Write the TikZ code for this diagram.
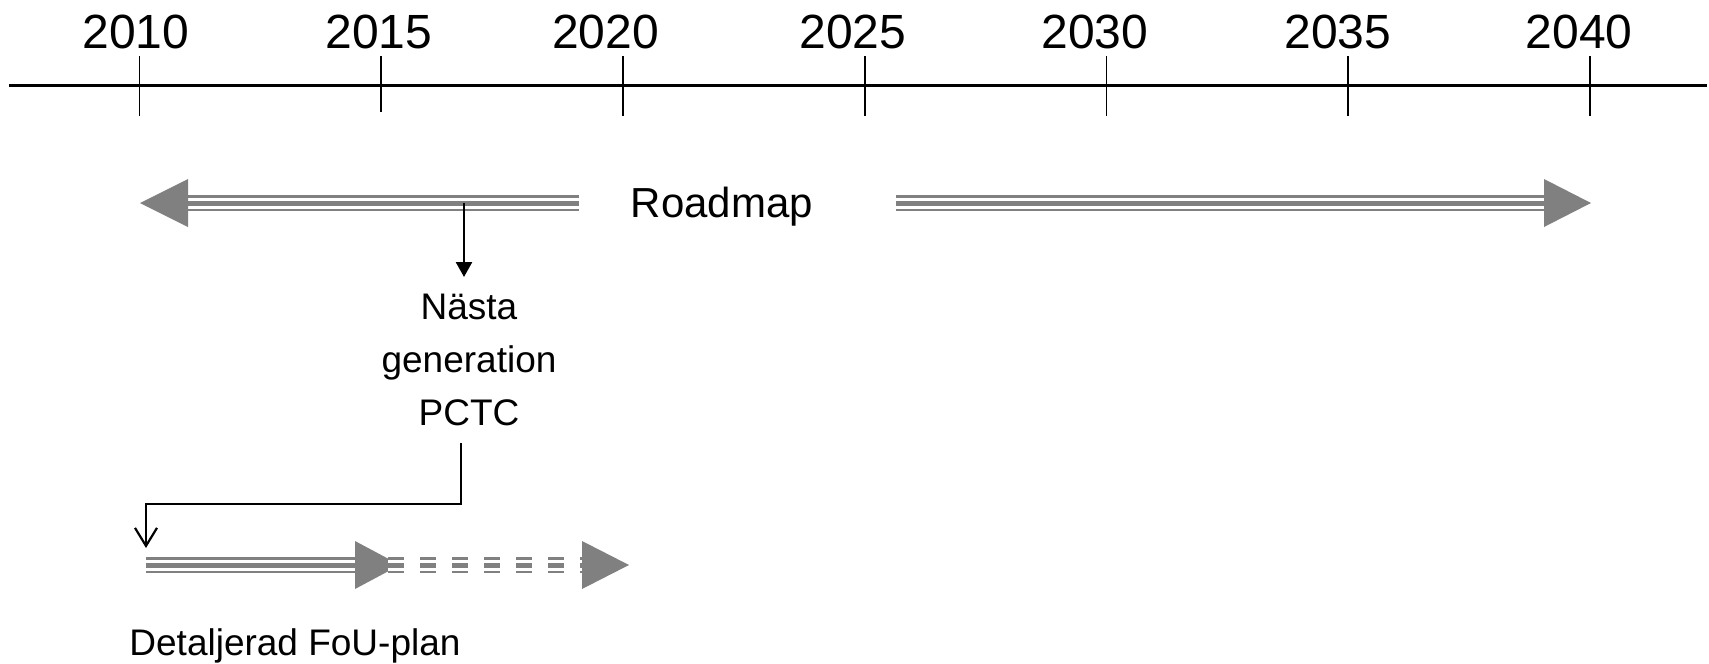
\documentclass[tikz,border=0pt]{standalone}
\usepackage{fontspec}
\setmainfont{Liberation Sans}
\usetikzlibrary{arrows.meta,positioning}
\definecolor{bandgray}{RGB}{128,128,128}

% triple-striped band and its head
\newcommand{\triband}[3][]{%
  \draw[bandgray,line width=15.5,#1] (#2) -- (#3);
  \draw[white,line width=11,#1] (#2) -- (#3);
  \draw[bandgray,line width=5,#1] (#2) -- (#3);}
\newcommand{\bandhead}[2]{\fill[bandgray] (#1) -- ++(#2,-24) -- ++(0,48) -- cycle;}

\tikzset{
  yearlbl/.style={font=\fontsize{48}{56}\selectfont,anchor=base,inner sep=0pt},
  bigtxt/.style={font=\fontsize{42}{50}\selectfont,anchor=base,inner sep=0pt},
  smalltxt/.style={font=\fontsize{37}{53}\selectfont,inner sep=0pt,align=center},
}

\begin{document}
\begin{tikzpicture}[x=1pt,y=-1pt,line cap=butt]
  \useasboundingbox (0,0) rectangle (1709,664);
  % time axis
  \draw[line width=2.2] (9,85.5) -- (1707,85.5);
  \foreach \yr/\lx/\bot [count=\k from 0] in {2010/136/116,2015/379/112,2020/605.5/116,2025/853/116,2030/1095/116,2035/1338/116,2040/1579/116}{
    \draw[line width=1.8] (139.5+241.75*\k,56) -- (139.5+241.75*\k,\bot);
    \node[yearlbl] (y\yr) at (\lx,48) {\yr};
  }

  % roadmap
  \coordinate (rmtipL) at (140,203);
  \coordinate (rmbaseL) at (188,203);
  \coordinate (rmendL) at (579,203);
  \coordinate (rmstartR) at (896,203);
  \coordinate (rmbaseR) at (1544,203);
  \coordinate (rmtipR) at (1591,203);
  \triband{rmbaseL}{rmendL}
  \bandhead{rmtipL}{48}
  \triband{rmstartR}{rmbaseR}
  \bandhead{rmtipR}{-47}
  \node[bigtxt] (roadmap) at (722,217) {Roadmap};

  % next generation PCTC
  \node[smalltxt,anchor=north] (pctc) at (469,294) {Nästa\\generation\\PCTC};
  \coordinate (drop) at (464,203);
  \draw[line width=2.5,-{Triangle[length=15,width=16]},shorten >=17] (drop) -- (drop |- pctc.north);

  % detailed plan
  \coordinate (fou) at (146,565);
  \coordinate (foubase) at (355,565);
  \coordinate (foutip) at (400,565);
  \coordinate (dashstart) at (388,565);
  \coordinate (dashbase) at (582,565);
  \coordinate (dashtip) at (629,565);
  \coordinate (pctcout) at (461,443);
  \triband{fou}{foubase}
  \bandhead{foutip}{-45}
  \triband[dash pattern=on 16 off 16]{dashstart}{dashbase}
  \bandhead{dashtip}{-47}
  \draw[line width=2.2,-{Straight Barb[length=18,width=22,line width=2.2]},shorten >=17]
    (pctcout) -- (pctcout |- 0,504) -| (fou);
  \node[smalltxt,anchor=base] (plan) at (295,655) {Detaljerad FoU-plan};
\end{tikzpicture}
\end{document}
